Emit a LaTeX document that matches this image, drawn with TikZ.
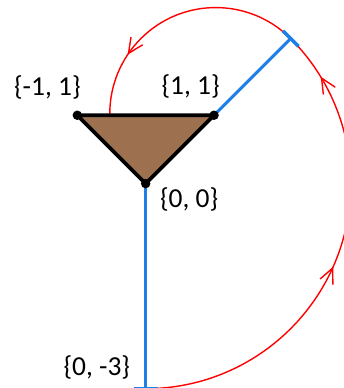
\documentclass[tikz,border=0pt]{standalone}
\usepackage{fontspec}
\setmainfont{Carlito}
\usetikzlibrary{arrows.meta,decorations.markings,calc}
\definecolor{rayblue}{RGB}{30,128,230}
\definecolor{triBrown}{RGB}{157,113,79}
\begin{document}
\begin{tikzpicture}[x=68.5pt,y=68.5pt,
  ray/.style={draw=rayblue,line width=3pt},
  tick/.style={draw=rayblue,line width=3.6pt},
  tri/.style={fill=triBrown,draw=black,line width=3.8pt,line join=round},
  vdot/.style={circle,fill=black,inner sep=0pt,minimum size=9.5pt},
  lab/.style={inner sep=0pt,font=\fontsize{27.5}{33}\selectfont},
  loop/.style={draw=red,line width=1.4pt,postaction={decorate},
    decoration={markings,
      mark=at position 0.323 with {\arrow{Straight Barb[length=15pt,width=14pt,line width=1.4pt]}},
      mark=at position 0.593 with {\arrow{Straight Barb[length=15pt,width=14pt,line width=1.4pt]}},
      mark=at position 0.915 with {\arrow{Straight Barb[length=15pt,width=14pt,line width=1.4pt]}}}}
]
\useasboundingbox (-2.131,-2.99) rectangle (2.891,2.686);
\coordinate (o) at (0,0);
\coordinate (a) at (-1,1);
\coordinate (b) at (1,1);
\coordinate (c) at (0,-3);
\coordinate (e) at (45:3);
% blue rays
\draw[ray] (o) -- (c);
\draw[ray] (o) -- (e);
% red winding curve
\draw[loop] (c) arc[start angle=-90,end angle=45,radius=3]
  arc[start angle=45,end angle=180,radius=1.55];
% end ticks
\draw[tick] ($(e)+(135:11pt)$) -- ($(e)+(-45:11pt)$);
\draw[tick] ($(c)+(-12pt,0)$) -- ($(c)+(12pt,0)$);
% triangle
\draw[tri] (a) -- (b) -- (o) -- cycle;
\node[vdot] (na) at (a) {};
\node[vdot] (nb) at (b) {};
\node[vdot] (no) at (o) {};
% labels
\node[lab] (la) at (-1.438,1.40) {\{-1, 1\}};
\node[lab] (lb) at (0.657,1.42) {\{1, 1\}};
\node[lab] (lo) at (0.635,-0.234) {\{0, 0\}};
\node[lab] (lc) at (-0.715,-2.686) {\{0, -3\}};
\end{tikzpicture}
\end{document}
